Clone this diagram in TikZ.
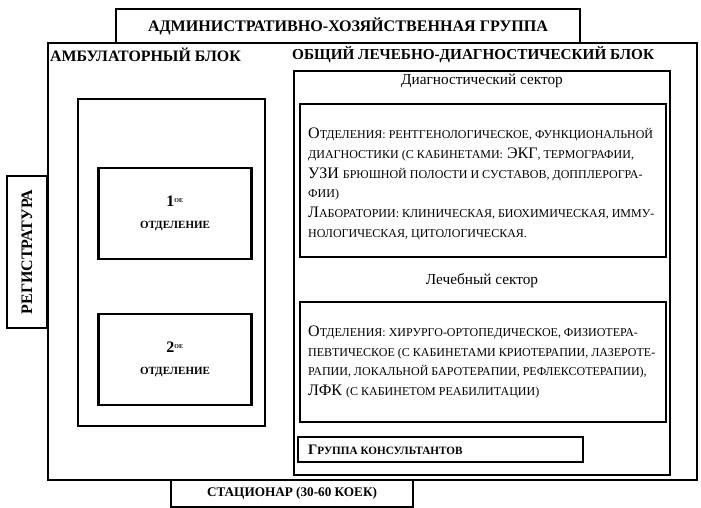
\documentclass[tikz,border=0pt]{standalone}
\usepackage{fontspec}
\setmainfont{Liberation Serif}
\usetikzlibrary{positioning}
\newcommand\smc[1]{{\fontsize{12}{19.7}\selectfont #1}}
\begin{document}
\begin{tikzpicture}[x=1pt,y=-1pt,
    blok/.style={draw, line width=2.3pt, inner sep=0pt},
    zag/.style={font=\fontsize{15.2}{18}\selectfont\bfseries, inner sep=0pt},
    sektor/.style={font=\fontsize{15.3}{18}\selectfont, inner sep=0pt},
    spisok/.style={anchor=west, align=left, inner sep=0pt, font=\fontsize{16}{19.7}\selectfont}]
    \useasboundingbox (0,0) rectangle (701,508);
    % outer frame, top and bottom groups
    \node[blok, minimum width=649, minimum height=437] (ramka) at (372.5,261.5) {};
    \node[blok, fill=white, minimum width=464, minimum height=34, font=\fontsize{16.1}{18}\selectfont\bfseries] (admin) at (348,26) {АДМИНИСТРАТИВНО-ХОЗЯЙСТВЕННАЯ ГРУППА};
    \node[blok, minimum width=242, minimum height=27, font=\fontsize{13.2}{14}\selectfont\bfseries] (stac) at (292,493.5) {СТАЦИОНАР (30-60 КОЕК)};
    \node[blok, minimum width=40, minimum height=152] (registr) at (27,252) {};
    \node[zag, rotate=90, font=\fontsize{16}{18}\selectfont\bfseries] at (registr.center) {РЕГИСТРАТУРА};
    % ambulatory block
    \node[zag, anchor=west, font=\fontsize{15.9}{18}\selectfont\bfseries] (ambzag) at (50,55) {АМБУЛАТОРНЫЙ БЛОК};
    \node[blok, minimum width=187, minimum height=327] (ambul) at (171.5,262.5) {};
    \foreach \y/\n in {213.5/1,359.5/2}{
        \node[blok, minimum width=153, minimum height=91, align=center, font=\fontsize{11}{22}\selectfont\bfseries] (otd\n) at (175,\y) {{\fontsize{16}{18}\selectfont\n}\textsuperscript{\fontsize{6}{7}\selectfont ОЕ}\\ОТДЕЛЕНИЕ};}
    % general block
    \node[blok, minimum width=376, minimum height=404] (obshch) at (482,273) {};
    \node[zag, anchor=west] (obzag) at (292,55) {ОБЩИЙ ЛЕЧЕБНО-ДИАГНОСТИЧЕСКИЙ БЛОК};
    \node[sektor] (diagzag) at (482,81) {Диагностический сектор};
    \node[blok, minimum width=366, minimum height=153] (diag) at (483,180.5) {};
    \node[spisok] (diagtxt) at (308,184) {О\smc{ТДЕЛЕНИЯ: РЕНТГЕНОЛОГИЧЕСКОЕ, ФУНКЦИОНАЛЬНОЙ}\\
        \smc{ДИАГНОСТИКИ (С КАБИНЕТАМИ:} ЭКГ\smc{, ТЕРМОГРАФИИ,}\\
        УЗИ \smc{БРЮШНОЙ ПОЛОСТИ И СУСТАВОВ, ДОППЛЕРОГРА-}\\
        \smc{ФИИ)}\\
        Л\smc{АБОРАТОРИИ: КЛИНИЧЕСКАЯ, БИОХИМИЧЕСКАЯ, ИММУ-}\\
        \smc{НОЛОГИЧЕСКАЯ, ЦИТОЛОГИЧЕСКАЯ.}};
    \node[sektor] (lechzag) at (482,281) {Лечебный сектор};
    \node[blok, minimum width=366, minimum height=120] (lech) at (483,362) {};
    \node[spisok] (lechtxt) at (308,362) {О\smc{ТДЕЛЕНИЯ: ХИРУРГО-ОРТОПЕДИЧЕСКОЕ, ФИЗИОТЕРА-}\\
        \smc{ПЕВТИЧЕСКОЕ (С КАБИНЕТАМИ КРИОТЕРАПИИ, ЛАЗЕРОТЕ-}\\
        \smc{РАПИИ, ЛОКАЛЬНОЙ БАРОТЕРАПИИ, РЕФЛЕКСОТЕРАПИИ),}\\
        ЛФК \smc{(С КАБИНЕТОМ РЕАБИЛИТАЦИИ)}};
    \node[blok, minimum width=285, minimum height=25] (konsult) at (440.5,449.5) {};
    \node[anchor=west, inner sep=0pt, font=\bfseries] at (308,449.5) {{\fontsize{14.5}{15}\selectfont Г}{\fontsize{11.2}{12}\selectfont РУППА КОНСУЛЬТАНТОВ}};
\end{tikzpicture}
\end{document}
